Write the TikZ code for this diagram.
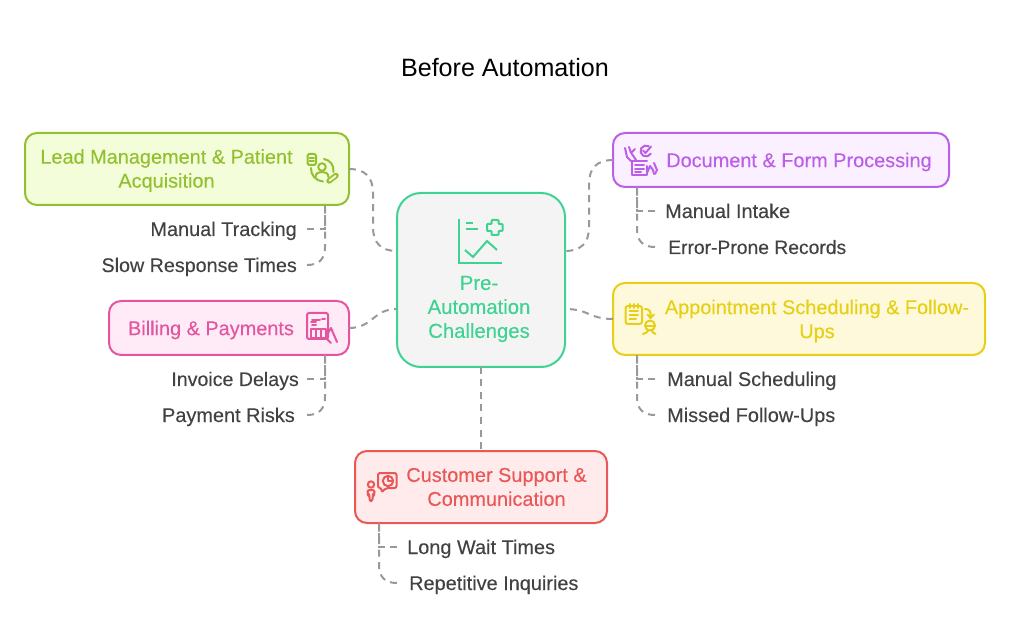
\documentclass[tikz,border=0pt]{standalone}
\usepackage{fontspec}
\usetikzlibrary{calc}
\setmainfont{Liberation Sans}[FakeBold=0.2]
\newfontfamily\titlefont{Liberation Sans}
\definecolor{cC}{HTML}{3ED391}\definecolor{cCf}{HTML}{F4F4F4}
\definecolor{cL}{HTML}{93C02F}\definecolor{cLf}{HTML}{F3FDD9}
\definecolor{cD}{HTML}{BB5FE8}\definecolor{cDf}{HTML}{FBF0FF}
\definecolor{cB}{HTML}{E3559F}\definecolor{cBf}{HTML}{FFEBF7}
\definecolor{cA}{HTML}{E6CF15}\definecolor{cAf}{HTML}{FFF9DB}
\definecolor{cS}{HTML}{E95757}\definecolor{cSf}{HTML}{FFEBEB}
\definecolor{cLeaf}{HTML}{424242}\definecolor{cLink}{HTML}{999999}
\tikzset{
  boxnode/.style={rectangle,rounded corners=12pt,line width=2pt,inner sep=0pt,outer sep=0pt,anchor=north west},
  boxtext/.style={inner sep=0pt,align=center,font=\fontsize{19.9}{24}\selectfont},
  leafL/.style={inner sep=0pt,anchor=base east,text=cLeaf,font=\fontsize{19.9}{24}\selectfont},
  leafR/.style={inner sep=0pt,anchor=base west,text=cLeaf,font=\fontsize{19.9}{24}\selectfont},
  link/.style={draw=cLink,line width=2pt,dash pattern=on 7pt off 5.5pt},
  sub/.style={draw=cLink,line width=2pt,dash pattern=on 7pt off 5.5pt},
  icon/.style={line width=2pt,line cap=round,line join=round}
}
\begin{document}
\begin{tikzpicture}[x=1pt,y=-1pt]
\useasboundingbox (0,0) rectangle (1010,644);
\node[inner sep=0pt,font=\titlefont\fontsize{25.1}{28}\selectfont] (title) at (505,68) {Before Automation};

\node[boxnode,draw=cC,fill=cCf,minimum width=168pt,minimum height=174pt,rounded corners=24pt] (center) at (397,193) {};
\node[boxnode,draw=cL,fill=cLf,minimum width=324pt,minimum height=72pt] (lead) at (25,133) {};
\node[boxnode,draw=cD,fill=cDf,minimum width=336pt,minimum height=54pt] (doc) at (613,133) {};
\node[boxnode,draw=cB,fill=cBf,minimum width=240pt,minimum height=54pt] (bill) at (109,301) {};
\node[boxnode,draw=cA,fill=cAf,minimum width=372pt,minimum height=72pt] (appt) at (613,283) {};
\node[boxnode,draw=cS,fill=cSf,minimum width=252pt,minimum height=72pt] (cust) at (355,451) {};

\node[boxtext,text=cC,font=\fontsize{20.3}{24}\selectfont] (centerT) at (479,309) {Pre-\\Automation\\Challenges};
\node[boxtext,text=cL] (leadT) at (166.5,170.5) {Lead Management \& Patient\\Acquisition};
\node[boxtext,text=cD] (docT) at (799,162) {Document \& Form Processing};
\node[boxtext,text=cB] (billT) at (211,330) {Billing \& Payments};
\node[boxtext,text=cA] (apptT) at (817,321) {Appointment Scheduling \& Follow-\\Ups};
\node[boxtext,text=cS] (custT) at (496.5,487) {Customer Support \&\\Communication};

\node[leafL] (l1) at (297,236) {Manual Tracking};
\node[leafL,font=\fontsize{19.7}{24}\selectfont] (l2) at (297,272) {Slow Response Times};
\node[leafR] (d1) at (665,218) {Manual Intake};
\node[leafR,font=\fontsize{19.3}{24}\selectfont] (d2) at (668,254) {Error-Prone Records};
\node[leafL,font=\fontsize{19.6}{24}\selectfont] (b1) at (299,386) {Invoice Delays};
\node[leafL] (b2) at (295,422) {Payment Risks};
\node[leafR] (a1) at (667,386) {Manual Scheduling};
\node[leafR] (a2) at (667,422) {Missed Follow-Ups};
\node[leafR] (c1) at (407,554) {Long Wait Times};
\node[leafR] (c2) at (409,590) {Repetitive Inquiries};

% anchors on the central box
\coordinate (cw1) at (397,251);\coordinate (cw2) at (397,309);
\coordinate (ce1) at (565,251);\coordinate (ce2) at (565,309);
\coordinate (ls) at (325,205);\coordinate (ds) at (637,187);
\coordinate (bs) at (325,355);\coordinate (as) at (637,355);
\coordinate (ss) at (379,523);

% main links
\draw[link] (lead.east) .. controls (365,169) and (373,177) .. (373,193) -- (373,227) .. controls (373,243) and (381,251) .. (cw1);
\draw[link] (doc.west) .. controls (597,160) and (589,168) .. (589,184) -- (589,227) .. controls (589,243) and (581,251) .. (ce1);
\draw[link] (bill.east) .. controls (373,328) and (373,309) .. (cw2);
\draw[link] (appt.west) .. controls (589,319) and (589,309) .. (ce2);
\draw[link] (center.south) -- (center.south |- cust.north);

% sub links, each from the leaf back to its box
\draw[sub] (307,229) -- (325,229) -- (ls);
\draw[sub] (307,265) .. controls (319,265) and (325,259) .. (325,247) -- (ls);
\draw[sub] (655,211) -- (637,211) -- (ds);
\draw[sub] (655,247) .. controls (643,247) and (637,241) .. (637,229) -- (ds);
\draw[sub] (307,379) -- (325,379) -- (bs);
\draw[sub] (307,415) .. controls (319,415) and (325,409) .. (325,397) -- (bs);
\draw[sub] (655,379) -- (637,379) -- (as);
\draw[sub] (655,415) .. controls (643,415) and (637,409) .. (637,397) -- (as);
\draw[sub] (397,547) -- (379,547) -- (ss);
\draw[sub] (397,583) .. controls (385,583) and (379,577) .. (379,565) -- (ss);

% centre icon
\begin{scope}[draw=cC,line width=2pt,line join=miter]
\draw (459,219) -- (459,263) -- (502,263);
\draw (466,223) -- (473,223) (466,229) -- (478,229);
\draw[rounded corners=0.7pt] (491.5,220) -- (498.5,220) -- (498.5,224) -- (502.5,224) -- (502.5,231) -- (498.5,231) -- (498.5,235) -- (491.5,235) -- (491.5,231) -- (487,231) -- (487,224) -- (491.5,224) -- cycle;
\draw (465,250) -- (473,257) -- (487,241) -- (497,250);
\end{scope}

% lead icon
\begin{scope}[draw=cL,icon]
\draw[rounded corners=1.5pt] (307.5,154) rectangle (316,165);
\draw (309.5,158) -- (314,158) (309.5,161) -- (314,161);
\draw (322,167) circle (3.8);
\draw (315.5,177) .. controls (316,172.5) and (319,172) .. (322,172) .. controls (325,172) and (328,172.5) .. (328.5,177);
\draw (324,159) .. controls (330,160) and (334,165) .. (333.5,172);
\draw (311,168) .. controls (310.5,175) and (316,181) .. (323,181.5);
\draw[line width=5.5pt,cL] (329,181) -- (336,175.5);
\draw[line width=2pt,cLf] (329.5,180.5) -- (335.5,176);
\end{scope}

% document icon
\begin{scope}[draw=cD,icon]
\draw (631.5,161) -- (647,161) (647,166) -- (647,175) -- (631.5,175) -- (631.5,161);
\draw (635,165) -- (644,165) (635,169) -- (644,169) (635,172.5) -- (641,172.5);
\draw (646,151) ++(30:5.5) arc (30:300:5.5);
\draw (643,150.5) -- (645.5,153) -- (651,146.5);
\draw (625,148) -- (627,157) -- (632,162);
\draw (629,147) -- (631,153) -- (635,149);
\draw (632,154) -- (636,160);
\draw (647,173) -- (650,166) -- (653,170) -- (654,174);
\draw (654,163) -- (657,170) -- (655,174);
\end{scope}

% billing icon
\begin{scope}[draw=cB,icon]
\draw[rounded corners=2pt] (307,313) rectangle (328,339);
\draw (312,320) -- (320,320) (322,319) -- (325,319);
\draw (311,322.5) -- (316,322.5) (312,325) -- (316,325);
\draw (311,329) rectangle (326,338);
\draw (316,329) -- (316,338) (321,329) -- (321,338);
\draw (328,333) -- (331,328) -- (337,342);
\draw (326,338) -- (331,343);
\end{scope}

% appointment icon
\begin{scope}[draw=cA,icon]
\draw[rounded corners=2.5pt] (625.5,306) rectangle (642,324);
\draw (630,304) -- (630,308) (634,304) -- (634,308) (638,304) -- (638,308);
\draw (629.5,311.5) -- (638,311.5) (629.5,315) -- (638,315) (629.5,319) -- (636,319);
\draw (645,309) .. controls (650,309) and (651,312) .. (650.5,317);
\draw (647.5,314.5) -- (650.5,318) -- (654,314.5);
\draw (650,325.5) circle (5);
\draw (646.5,326) -- (653.5,326);
\draw (643,334) .. controls (646,333) and (648,332) .. (648,330.5);
\draw (655.5,334) .. controls (653,333) and (652,332) .. (652,330.5);
\end{scope}

% support icon
\begin{scope}[draw=cS,icon]
\draw[rounded corners=2pt] (378,473) -- (396.5,473) -- (396.5,488) -- (386,488) -- (381.5,492.5) -- (381.5,488) -- (378,488) -- cycle;
\draw (388,481) circle (5.2);
\draw (388,477.5) -- (388,481) -- (391.5,481);
\draw (371,484.5) circle (3.2);
\draw[rounded corners=2pt] (367.5,494.5) -- (367.5,490) -- (374.5,490) -- (374.5,494.5) -- (372.5,495) -- (372.5,501) -- (369.5,501) -- (369.5,495) -- cycle;
\end{scope}
\end{tikzpicture}
\end{document}
